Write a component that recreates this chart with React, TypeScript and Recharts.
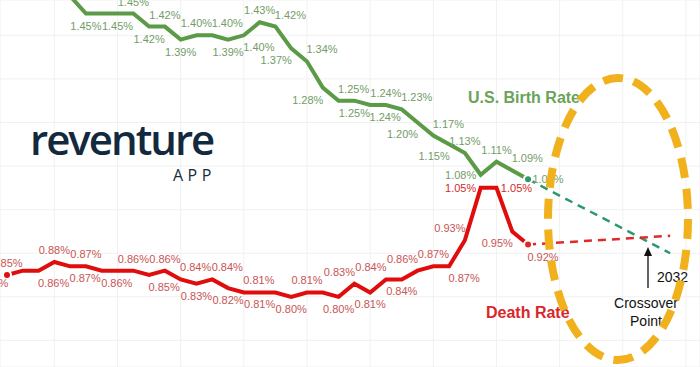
import React from 'react';
import { LineChart, Line, XAxis, YAxis, CartesianGrid, LabelList } from 'recharts';

// one point per year, both series share the same years
const years = [
  1991, 1992, 1993, 1994, 1995, 1996, 1997, 1998, 1999, 2000, 2001, 2002,
  2003, 2004, 2005, 2006, 2007, 2008, 2009, 2010, 2011, 2012, 2013, 2014,
  2015, 2016, 2017, 2018, 2019, 2020, 2021, 2022, 2023, 2024,
];

// early birth values run off the top of the crop
const birthRate = [
  null, null, null, null, 1.49, 1.45, 1.45, 1.45, 1.45, 1.42, 1.42, 1.39,
  1.40, 1.40, 1.39, 1.40, 1.43, 1.42, 1.37, 1.34, 1.28, 1.25, 1.25, 1.24,
  1.24, 1.23, 1.20, 1.17, 1.15, 1.13, 1.08, 1.11, 1.09, 1.07,
];

const deathRate = [
  0.85, 0.86, 0.86, 0.88, 0.87, 0.87, 0.86, 0.86, 0.86, 0.85, 0.86, 0.84,
  0.83, 0.84, 0.82, 0.81, 0.81, 0.81, 0.80, 0.81, 0.81, 0.80, 0.83, 0.81,
  0.84, 0.84, 0.86, 0.87, 0.87, 0.93, 1.05, 1.05, 0.95, 0.92,
];

// dashed projection to the crossover
const projYears = [2024, 2033];
const birthProj = [1.07, 0.9];
const deathProj = [0.92, 0.94];

const xTicks = [
  1992, 1994, 1996, 1998, 2000, 2002, 2004, 2006, 2008, 2010, 2012, 2014,
  2016, 2018, 2020, 2022, 2024, 2026, 2028, 2030, 2032, 2034,
];
const yTicks = [0.7, 0.8, 0.9, 1.0, 1.1, 1.2, 1.3, 1.4];

// where each value label sits relative to its point ('' = no label)
const birthLabelPos = [
  '', '', '', '', 'l', 'b', '', 'b', 'a', 'b', 'a', 'b', 'a', 'ar', 'b', 'br',
  'a', 'ar', 'bl', 'ar', 'bl', 'ar', 'b', 'br', 'a', 'ar', 'bl', 'ar', 'bl',
  'a', 'l', 'a', 'ar', 'r',
];
const deathLabelPos = [
  'a', 'bll', 'br', 'a', 'br', 'a', 'br', '', 'a', 'br', 'a', 'ar', 'b', 'ar',
  'b', 'ar', 'b', '', 'b', 'a', '', 'b', 'al', 'b', 'al', 'b', 'al', 'a', 'br',
  'al', 'l', 'r', 'bl', 'br',
];

const offsets: Record<string, [number, number]> = {
  a: [0, -12],
  b: [0, 12],
  ar: [15, -12],
  al: [-15, -12],
  br: [15, 12],
  bl: [-15, 12],
  bll: [-30, 12],
  l: [-20, 0],
  r: [20, 0],
};

const rows = years.map((year, i) => ({
  year,
  birth: birthRate[i],
  death: deathRate[i],
}));
const projRows = projYears.map((year, i) => ({
  year,
  birth: birthProj[i],
  death: deathProj[i],
}));

const makeLabel = (positions: string[], color: string, strong?: (v: number) => boolean) =>
  (props: any) => {
    const { x, y, value, index } = props;
    const pos = positions[index];
    if (value == null || !pos) return null;
    const [dx, dy] = offsets[pos];
    const hot = strong ? strong(Number(value)) : false;
    return (
      <text
        x={Number(x) + dx}
        y={Number(y) + dy}
        textAnchor="middle"
        dominantBaseline="central"
        fontSize={11}
        fontFamily="'Liberation Sans', Arial, sans-serif"
        fill={hot ? '#d42a2a' : color}
      >
        {Number(value).toFixed(2)}%
      </text>
    );
  };

export default function App() {
  return (
    <div style={{ position: 'fixed', left: 0, top: 0, width: 700, height: 367, background: '#fff' }}>
      <LineChart width={700} height={367} data={rows} margin={{ top: 0, right: 0, bottom: 0, left: 0 }}>
        <CartesianGrid stroke="#f1f1f1" strokeWidth={1} />
        <XAxis
          dataKey="year"
          type="number"
          domain={[1990.557, 2034.89]}
          ticks={xTicks}
          allowDataOverflow
          hide
        />
        <YAxis type="number" domain={[0.639, 1.481]} ticks={yTicks} allowDataOverflow hide />
        <Line
          data={projRows}
          dataKey="birth"
          stroke="#2a9a6c"
          strokeWidth={2.5}
          strokeDasharray="8 6"
          dot={false}
          isAnimationActive={false}
        />
        <Line
          data={projRows}
          dataKey="death"
          stroke="#e02a2a"
          strokeWidth={2.5}
          strokeDasharray="8 6"
          dot={false}
          isAnimationActive={false}
        />
        <Line
          dataKey="birth"
          stroke="#5b9a46"
          strokeWidth={4}
          dot={false}
          isAnimationActive={false}
        >
          <LabelList dataKey="birth" content={makeLabel(birthLabelPos, '#749c68')} />
        </Line>
        <Line
          dataKey="death"
          stroke="#e00d0d"
          strokeWidth={4}
          dot={false}
          isAnimationActive={false}
        >
          <LabelList dataKey="death" content={makeLabel(deathLabelPos, '#c85454', (v) => v > 1)} />
        </Line>
      </LineChart>

      <svg
        width={700}
        height={367}
        style={{ position: 'absolute', left: 0, top: 0, pointerEvents: 'none' }}
        fontFamily="'Liberation Sans', Arial, sans-serif"
      >
        <text x={30} y={155} fontFamily="'Open Sans', sans-serif" fontWeight={600} fontSize={42} letterSpacing={-2} fill="#13293d">
          reventure
        </text>
        <text x={173} y={181} fontFamily="'Open Sans', sans-serif" fontSize={16} letterSpacing={4.5} fill="#1b2b3b">
          APP
        </text>
        <text x={468} y={103} fontWeight={700} fontSize={16} fill="#6aa35a">U.S. Birth Rate</text>
        <text x={486} y={318} fontWeight={700} fontSize={16} fill="#d9262b">Death Rate</text>

        <line x1={648} y1={288} x2={648} y2={254} stroke="#111" strokeWidth={1.3} />
        <polygon points="644,256 652,256 648,247" fill="#111" />
        <text x={657} y={282} fontSize={14} fill="#111">2032</text>
        <text x={646} y={308} textAnchor="middle" fontSize={14} fill="#111">Crossover</text>
        <text x={646} y={326} textAnchor="middle" fontSize={14} fill="#111">Point</text>

        <ellipse cx={618} cy={219} rx={70} ry={141} fill="none" stroke="#f0b11c" strokeWidth={8} strokeDasharray="20 11" />
      </svg>
    </div>
  );
}
